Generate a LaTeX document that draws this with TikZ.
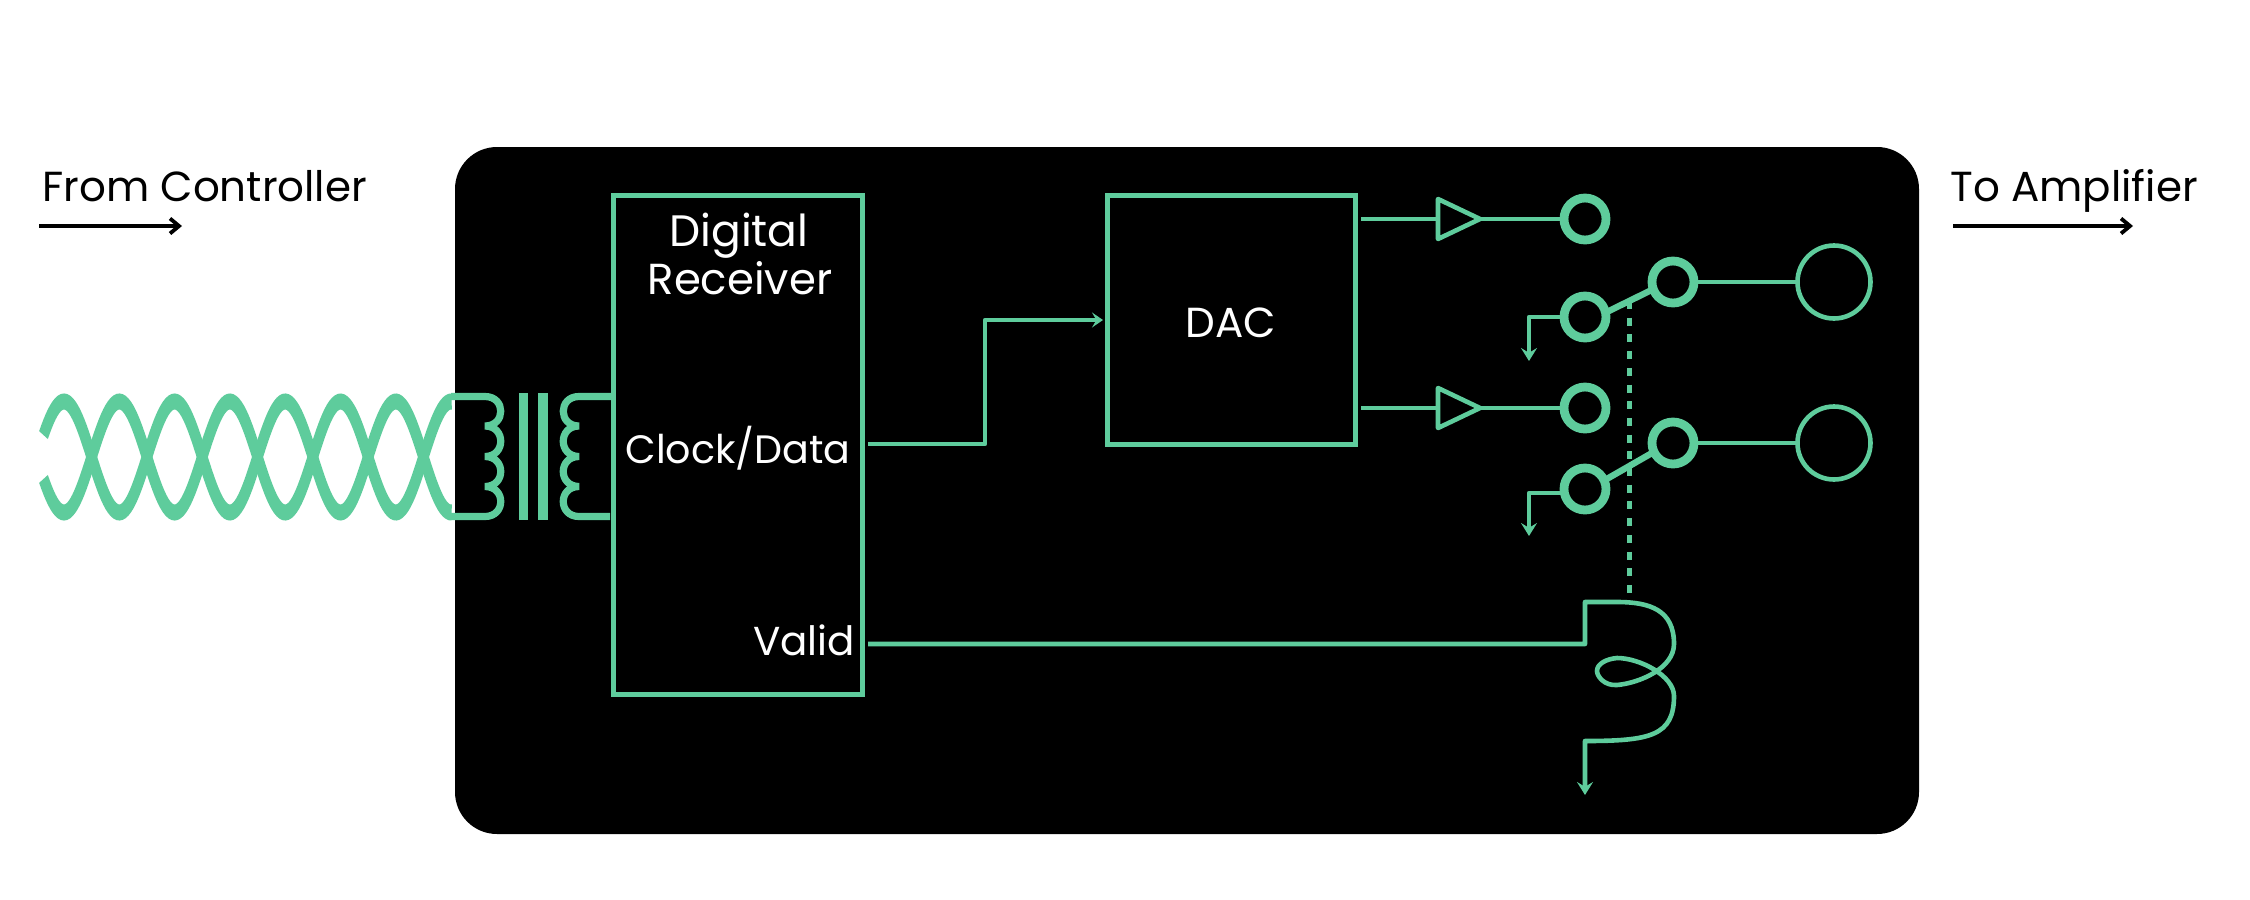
\documentclass[tikz,border=0pt]{standalone}
\usepackage{fontspec}
\setmainfont{Poppins}
\usetikzlibrary{arrows.meta}
\definecolor{sig}{HTML}{5ECC9C}
\tikzset{
  x=0.5pt,y=-0.5pt,
  wire/.style={draw=sig,line width=2.3pt,line join=round},
  fatwire/.style={draw=sig,line width=3.6pt},
  gndtip/.style={-{Stealth[length=6.5pt,width=8pt,inset=2.4pt]}},
  smalltip/.style={-{Stealth[length=5.5pt,width=7.5pt,inset=2.2pt]}},
  ring/.style={circle,draw=sig,line width=4.4pt,minimum size=21pt,inner sep=0pt,outer sep=0pt},
  outring/.style={circle,draw=sig,line width=2.3pt,minimum size=36.5pt,inner sep=0pt,outer sep=0pt},
  block/.style={rectangle,draw=sig,line width=2.5pt,inner sep=0pt,outer sep=0pt},
  lab/.style={text=white,inner sep=0pt},
  toplab/.style={text=black,font=\fontsize{21}{24}\selectfont,inner sep=0pt},
  flow/.style={draw=black,line width=1.9pt,-{Straight Barb[length=4.5pt,width=7.5pt]}},
  core/.style={fill=sig,draw=none,rectangle,inner sep=0pt,outer sep=0pt,minimum width=4.6pt,minimum height=63.5pt},
}
\begin{document}
\begin{tikzpicture}
\useasboundingbox (0,0) rectangle (2250,900);
\fill[white] (0,0) rectangle (2250,900);
\node[fill=black,rounded corners=21pt,minimum width=732pt,minimum height=343.5pt,inner sep=0pt,outer sep=0pt] (panel) at (1187,490.5) {};

% labels above
\node[toplab,anchor=base west] (from) at (42,201) {From Controller};
\node[toplab,anchor=base west] (to) at (1950,201) {To Amplifier};
\coordinate (froma) at (39,226); \coordinate (fromb) at (182,226);
\coordinate (toa) at (1953,226); \coordinate (tob) at (2133,226);
\draw[flow] (froma) -- (fromb);
\draw[flow] (toa) -- (tob);

% twisted pair
\begin{scope}[transform canvas={yscale=1.6}]
\draw[draw=sig,line width=5pt] plot[samples=200,domain=43.5:451.6] (\x,{(457-55.5*cos((\x-64)/110.6*360))/1.6});
\draw[draw=sig,line width=5pt] plot[samples=200,domain=43.5:451.6] (\x,{(457+55.5*cos((\x-64)/110.6*360))/1.6});
\end{scope}

% transformer
\coordinate (pt) at (451,396.5); \coordinate (pb) at (451,516.5);
\coordinate (st) at (612,396.5); \coordinate (sb) at (610,516.5);
\draw[fatwire] (pt) -- (485,396.5) .. controls (506,396.5) and (506,426) .. (485,426)
  .. controls (506,426) and (506,456.5) .. (485,456.5)
  .. controls (506,456.5) and (506,486.5) .. (485,486.5)
  .. controls (506,486.5) and (506,516.5) .. (485,516.5) -- (pb);
\draw[fatwire] (st) -- (579,396.5) .. controls (558,396.5) and (558,426) .. (579,426)
  .. controls (558,426) and (558,456.5) .. (579,456.5)
  .. controls (558,456.5) and (558,486.5) .. (579,486.5)
  .. controls (558,486.5) and (558,516.5) .. (579,516.5) -- (sb);
\node[core] (corea) at (523.5,456.5) {};
\node[core] (coreb) at (543,456.5) {};

% blocks
\node[block,minimum width=124.5pt,minimum height=249.5pt] (recv) at (737.5,444.5) {};
\node[block,minimum width=124pt,minimum height=124.5pt] (dac) at (1231.5,319.5) {};
\node[lab,font=\fontsize{22}{24}\selectfont] (digital) at (739,236) {Digital};
\node[lab,font=\fontsize{21.7}{24}\selectfont] (receiver) at (740,278) {Receiver};
\node[lab,font=\fontsize{19.8}{24}\selectfont] (clock) at (738,448) {Clock/Data};
\node[lab,font=\fontsize{20.2}{24}\selectfont] (valid) at (804,640) {Valid};
\node[lab,font=\fontsize{21}{24}\selectfont] (daclab) at (1231,323) {DAC};

% clock/data
\coordinate (clk) at (868,444);
\coordinate (dacin) at (1103,320);
\draw[wire,smalltip] (clk) -- (985,444) -- (985,320) -- (dacin);

% amps
\coordinate (a1i) at (1361,219); \coordinate (a2i) at (1361,408);
\coordinate (a1l) at (1438,219); \coordinate (a2l) at (1438,408);
\coordinate (a1o) at (1480,219); \coordinate (a2o) at (1480,408);
\draw[wire] (a1i) -- (a1l);
\draw[wire] (a2i) -- (a2l);
\draw[wire] (1438,199) -- (a1o) -- (1438,239) -- cycle;
\draw[wire] (1438,388) -- (a2o) -- (1438,428) -- cycle;

% ganged link
\coordinate (linktop) at (1629.5,301); \coordinate (linkbot) at (1629.5,594);
\draw[draw=sig,line width=2.3pt,dash pattern=on 4pt off 4.35pt] (linktop) -- (linkbot);

% contacts
\node[ring] (u1) at (1585,219) {};
\node[ring] (u2) at (1585,408) {};
\node[ring] (n1) at (1585,317) {};
\node[ring] (n2) at (1585,489) {};
\node[ring] (c1) at (1673,282) {};
\node[ring] (c2) at (1673,443) {};
\node[outring] (o1) at (1834,282) {};
\node[outring] (o2) at (1834,443) {};
\draw[wire] (a1o) -- (u1);
\draw[wire] (a2o) -- (u2);
\draw[wire] (c1) -- (o1);
\draw[wire] (c2) -- (o2);
\draw[draw=sig,line width=3.2pt] (n1.12) -- (c1.200);
\draw[draw=sig,line width=3.2pt] (n2.24) -- (c2.205);

% ground stubs
\draw[wire,gndtip] (n1.west |- 0,317) -- (1529,317) -- (1529,361);
\draw[wire,gndtip] (n2.west |- 0,493) -- (1529,493) -- (1529,536);

% valid and relay coil
\coordinate (vs) at (868,644);
\coordinate (coil) at (1585,644);
\draw[wire,gndtip] (vs) -- (coil) -- (1585,602)
  -- (1617,602) .. controls (1650,602) and (1674,610) .. (1674,644)
  .. controls (1674,668) and (1640,683) .. (1617,685)
  .. controls (1604,686) and (1597,676) .. (1597,671)
  .. controls (1597,664) and (1606,659) .. (1617,658)
  .. controls (1640,658) and (1674,676) .. (1674,696)
  .. controls (1674,736) and (1650,741) .. (1585,741)
  -- (1585,795);
\end{tikzpicture}
\end{document}
